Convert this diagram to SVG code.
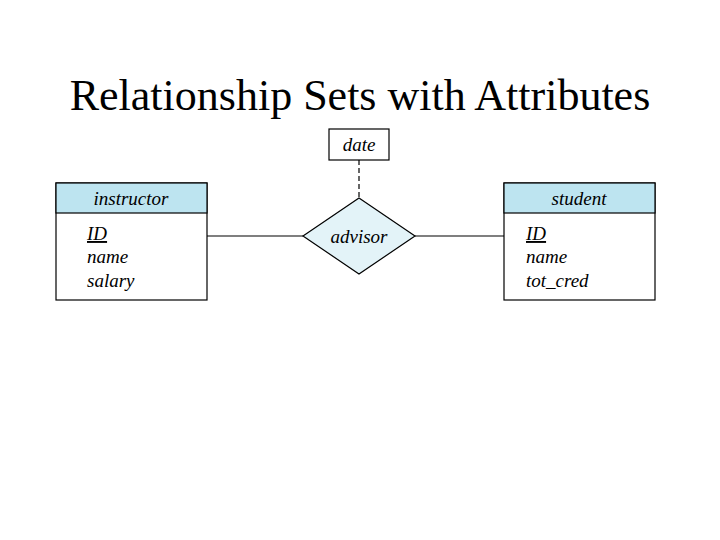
<svg xmlns="http://www.w3.org/2000/svg" width="720" height="540" viewBox="0 0 720 540">
<style>
.b{fill:#fff;stroke:#000;stroke-width:1.2}
.h{fill:#bde4f0;stroke:#000;stroke-width:1.2}
.t{font-family:"Liberation Serif",serif;font-style:italic;font-size:19px;fill:#000}
.l{stroke:#000;stroke-width:1.2;fill:none}
</style>
<rect width="720" height="540" fill="#fff"/>
<text x="360" y="110" text-anchor="middle" font-family="Liberation Serif,serif" font-size="44">Relationship Sets with Attributes</text>
<g id="connectors">
<line class="l" x1="207" y1="236" x2="303" y2="236"/>
<line class="l" x1="415" y1="236" x2="504" y2="236"/>
<line class="l" x1="359" y1="160" x2="359" y2="198" stroke-dasharray="5,3"/>
</g>
<g id="date">
<rect class="b" x="329" y="129" width="60" height="31"/>
<text class="t" x="359" y="151" text-anchor="middle">date</text>
</g>
<g id="instructor">
<rect class="b" x="56" y="183" width="151" height="117"/>
<rect class="h" x="56" y="183" width="151" height="30"/>
<text class="t" x="131" y="205" text-anchor="middle">instructor</text>
<text class="t" x="87" y="240" text-decoration="underline">ID</text>
<text class="t" x="87" y="263">name</text>
<text class="t" x="87" y="287">salary</text>
</g>
<g id="advisor">
<polygon points="359,198 415,236 359,274 303,236" fill="#e3f3f8" stroke="#000" stroke-width="1.2"/>
<text class="t" x="359" y="243" text-anchor="middle">advisor</text>
</g>
<g id="student">
<rect class="b" x="504" y="183" width="151" height="117"/>
<rect class="h" x="504" y="183" width="151" height="30"/>
<text class="t" x="579" y="205" text-anchor="middle">student</text>
<text class="t" x="526" y="240" text-decoration="underline">ID</text>
<text class="t" x="526" y="263">name</text>
<text class="t" x="526" y="287">tot_cred</text>
</g>
</svg>
